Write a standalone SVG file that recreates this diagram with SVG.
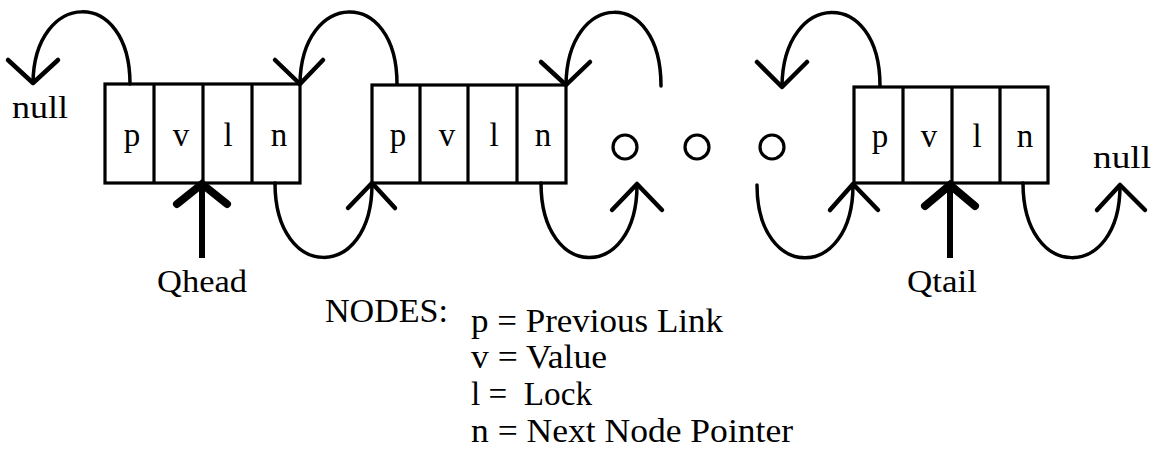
<svg xmlns="http://www.w3.org/2000/svg" width="1156" height="449" viewBox="0 0 1156 449">
  <style>
    .box { fill: #fff; stroke: #000; stroke-width: 3.2; }
    .div { stroke: #000; stroke-width: 3.2; }
    .cell { font-family: "Liberation Serif", serif; font-size: 33px; fill: #000; text-anchor: middle; }
    .lbl { font-family: "Liberation Serif", serif; font-size: 32px; fill: #000; }
    .leg { font-family: "Liberation Serif", serif; font-size: 33px; fill: #000; }
    .link { fill: none; stroke: #000; stroke-width: 3.5; stroke-linecap: round; }
    .head { fill: none; stroke: #000; stroke-width: 4.5; stroke-linecap: round; stroke-linejoin: round; }
    .ptr { fill: none; stroke: #000; stroke-width: 6; }
    .ptrhead { fill: none; stroke: #000; stroke-width: 8; stroke-linecap: round; stroke-linejoin: miter; }
    .dot { fill: none; stroke: #000; stroke-width: 3.2; }
  </style>

  <!-- first queue node -->
  <g id="node-head">
    <rect class="box" x="105" y="84" width="195" height="99"/>
    <line class="div" x1="154" y1="84" x2="154" y2="183"/>
    <line class="div" x1="203" y1="84" x2="203" y2="183"/>
    <line class="div" x1="252" y1="84" x2="252" y2="183"/>
    <text class="cell" x="132" y="146">p</text>
    <text class="cell" x="181" y="146">v</text>
    <text class="cell" x="228" y="146">l</text>
    <text class="cell" x="279" y="146">n</text>
  </g>

  <!-- second queue node -->
  <g id="node-second">
    <rect class="box" x="372" y="85" width="194" height="98"/>
    <line class="div" x1="420" y1="85" x2="420" y2="183"/>
    <line class="div" x1="468" y1="85" x2="468" y2="183"/>
    <line class="div" x1="517" y1="85" x2="517" y2="183"/>
    <text class="cell" x="398" y="146">p</text>
    <text class="cell" x="447" y="146">v</text>
    <text class="cell" x="494" y="146">l</text>
    <text class="cell" x="543" y="146">n</text>
  </g>

  <!-- ellipsis between nodes -->
  <g id="ellipsis">
    <circle class="dot" cx="625" cy="147" r="12"/>
    <circle class="dot" cx="697" cy="147" r="12"/>
    <circle class="dot" cx="772" cy="147" r="12"/>
  </g>

  <!-- last queue node -->
  <g id="node-tail">
    <rect class="box" x="854" y="87" width="194" height="96"/>
    <line class="div" x1="903" y1="87" x2="903" y2="183"/>
    <line class="div" x1="952" y1="87" x2="952" y2="183"/>
    <line class="div" x1="1000" y1="87" x2="1000" y2="183"/>
    <text class="cell" x="880" y="147">p</text>
    <text class="cell" x="929" y="147">v</text>
    <text class="cell" x="977" y="147">l</text>
    <text class="cell" x="1025" y="147">n</text>
  </g>

  <!-- previous / next links -->
  <g id="links">
    <!-- upper loops: previous links -->
    <path class="link" d="M130,84 C130,-14 34,-10 33,83"/>
    <path class="head" d="M8,60 L33,83 L58,60"/>
    <path class="link" d="M397,84 C397,-14 301,-10 300,84"/>
    <path class="head" d="M275,60 L300,84 L323,60"/>
    <path class="link" d="M661,86 C661,-14 567,-10 566,85"/>
    <path class="head" d="M541,62 L566,85 L590,62"/>
    <path class="link" d="M880,86 C880,-14 783,-10 782,86"/>
    <path class="head" d="M757,62 L782,87 L807,62"/>
    <!-- lower loops: next links -->
    <path class="link" d="M275,183 C275,282 372,282 372,184"/>
    <path class="head" d="M348,208 L372,183 L395,208"/>
    <path class="link" d="M541,183 C541,282 637,282 637,185"/>
    <path class="head" d="M612,210 L637,184 L662,210"/>
    <path class="link" d="M757,185 C757,282 853,282 853,185"/>
    <path class="head" d="M830,210 L853,184 L878,210"/>
    <path class="link" d="M1023,183 C1023,282 1120,282 1120,186"/>
    <path class="head" d="M1097,210 L1120,185 L1145,210"/>
  </g>

  <!-- head and tail pointers -->
  <g id="qhead">
    <line class="ptr" x1="202" y1="258" x2="202" y2="186"/>
    <path class="ptrhead" d="M177,204 L202,184 L227,204"/>
    <text class="lbl" x="157" y="292" textLength="90" lengthAdjust="spacingAndGlyphs">Qhead</text>
  </g>
  <g id="qtail">
    <line class="ptr" x1="950" y1="258" x2="950" y2="186"/>
    <path class="ptrhead" d="M925,206 L950,185 L975,206"/>
    <text class="lbl" x="907" y="292" textLength="70" lengthAdjust="spacingAndGlyphs">Qtail</text>
  </g>

  <!-- null terminators -->
  <g id="null-left">
    <text class="lbl" x="12" y="118" textLength="56" lengthAdjust="spacingAndGlyphs">null</text>
  </g>
  <g id="null-right">
    <text class="lbl" x="1093" y="168" textLength="58" lengthAdjust="spacingAndGlyphs">null</text>
  </g>

  <!-- legend -->
  <g id="legend">
    <text class="leg" x="325" y="322" textLength="123" lengthAdjust="spacingAndGlyphs">NODES:</text>
    <text class="leg" x="471" y="332" textLength="252" lengthAdjust="spacingAndGlyphs">p = Previous Link</text>
    <text class="leg" x="471" y="368" textLength="136" lengthAdjust="spacingAndGlyphs">v = Value</text>
    <text class="leg" x="471" y="405" textLength="121" lengthAdjust="spacingAndGlyphs" xml:space="preserve">l =  Lock</text>
    <text class="leg" x="471" y="442" textLength="322" lengthAdjust="spacingAndGlyphs">n = Next Node Pointer</text>
  </g>
</svg>
